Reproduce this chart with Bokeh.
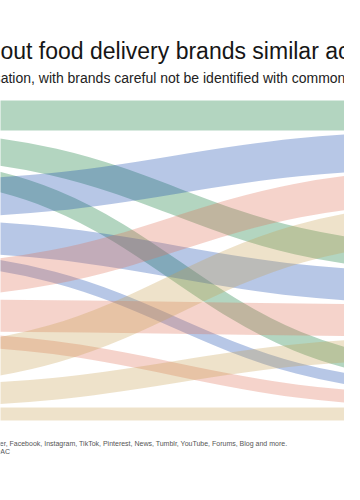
import numpy as np
from bokeh.plotting import figure
from bokeh.models import ColumnDataSource, Range1d
from bokeh.core.properties import value
from bokeh.embed import file_html
from bokeh.resources import INLINE

# ---------------- data ----------------
brands = ["Brand A", "Brand B", "Brand C", "Brand D"]
topics = ["Topic 1", "Topic 2", "Topic 3"]
# conversation volume of each brand per topic (order follows `topics`)
brand_a_vals = [30, 27, 20]
brand_b_vals = [38, 32, 11]
brand_c_vals = [34, 32, 13]
brand_d_vals = [38, 22, 13]
brand_colors = ["#027330", "#1244ac", "#de6c52", "#c69e4e"]

title = "Conversations about food delivery brands similar across platforms"
subtitle = "Topics of conversation, with brands careful not be identified with common complaints"
source_line = ("Source: Twitter, Facebook, Instagram, TikTok, Pinterest, News, Tumblr, "
               "YouTube, Forums, Blog and more.")
credit_line = "Design: DAC"

# ---------------- layout ----------------
vals = [brand_a_vals, brand_b_vals, brand_c_vals, brand_d_vals]
TOP, BOTTOM = 100.0, 420.0
X0, X1 = -125.0, 475.0
total = float(sum(sum(v) for v in vals))
pad_left = (BOTTOM - TOP - total) / (len(brands) - 1)
pad_right = (BOTTOM - TOP - total) / (len(topics) - 1)

left_top = {}
y = TOP
for bi, row in enumerate(vals):
    for ti, v in enumerate(row):
        left_top[(bi, ti)] = y
        y += v
    y += pad_left

right_top = {}
y = TOP
for ti in range(len(topics)):
    for bi in range(len(brands)):
        v = vals[bi][ti]
        right_top[(bi, ti)] = y
        y += v
    y += pad_right

rows = dict(x0=[], y0=[], x1=[], y1=[], cx0=[], cy0=[], cx1=[], cy1=[], w=[], c=[])
xm = (X0 + X1) / 2
for bi, row in enumerate(vals):
    for ti, v in enumerate(row):
        yl = left_top[(bi, ti)] + v / 2
        yr = right_top[(bi, ti)] + v / 2
        rows["x0"].append(X0); rows["y0"].append(yl)
        rows["x1"].append(X1); rows["y1"].append(yr)
        rows["cx0"].append(xm); rows["cy0"].append(yl)
        rows["cx1"].append(xm); rows["cy1"].append(yr)
        rows["w"].append(v)
        rows["c"].append(brand_colors[bi])
src = ColumnDataSource(rows)

p = figure(width=344, height=484, x_range=Range1d(0, 344), y_range=Range1d(484, 0),
           output_backend="svg", toolbar_location=None, min_border=0)
p.axis.visible = False
p.grid.visible = False
p.outline_line_color = None
p.background_fill_color = "white"
p.border_fill_color = "white"

p.bezier(x0="x0", y0="y0", x1="x1", y1="y1", cx0="cx0", cy0="cy0", cx1="cx1", cy1="cy1",
         source=src, line_color="c", line_width="w", line_alpha=0.3)

FONT = value("Liberation Sans")
p.text(x=[-179], y=[50], text=[title], text_font=FONT, text_font_size=value("23px"),
       text_color="#161616", text_baseline="alphabetic")
p.text(x=[-108], y=[77], text=[subtitle], text_font=FONT, text_font_size=value("14px"),
       text_color="#222222", text_baseline="alphabetic")
p.text(x=[-41, -31], y=[443, 451], text=[source_line, credit_line], text_font=FONT,
       text_font_size=value("7px"), text_color="#555555", text_baseline="alphabetic")

open("out.html", "w").write(file_html(p, INLINE))
